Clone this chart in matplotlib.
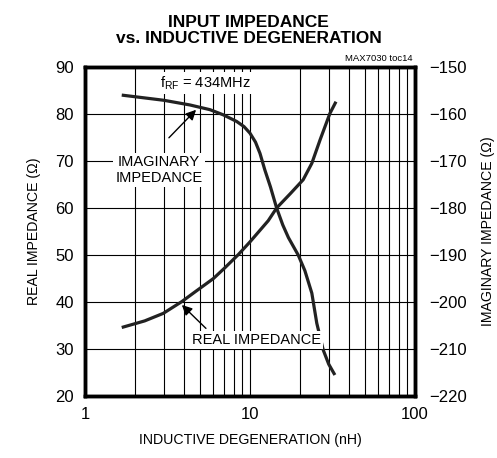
import matplotlib
matplotlib.use("Agg")
import matplotlib.pyplot as plt
from matplotlib import font_manager
from matplotlib.ticker import FixedLocator, NullFormatter

names = {f.name for f in font_manager.fontManager.ttflist}
narrow = 'Liberation Sans Narrow' if 'Liberation Sans Narrow' in names else 'Liberation Sans'
plt.rcParams['font.family'] = [narrow, 'DejaVu Sans']

# inductance (nH) and impedances
l_real = [1.67, 2.3, 2.98, 3.86, 4.7, 6.0, 7.0, 8.5, 10.0, 12.9, 14.5,
          17.5, 21.0, 23.7, 26.6, 30.5, 33.2]
z_real = [34.6, 36.0, 37.6, 40.1, 42.3, 45.0, 47.2, 50.1, 52.8, 57.3, 60.0,
          63.0, 66.0, 69.5, 74.5, 80.1, 82.6]
l_imag = [1.67, 3.0, 4.33, 5.72, 6.89, 8.3, 9.2, 10.0, 10.8, 11.5, 12.3,
          13.3, 14.5, 15.8, 17.1, 19.6, 21.5, 23.7, 25.4, 27.8, 30.0, 32.7]
z_imag = [-156.0, -157.1, -158.1, -159.1, -160.2, -161.6, -162.7, -164.1,
          -166.0, -168.4, -171.9, -175.5, -180.0, -183.6, -186.3, -190.0,
          -193.3, -198.1, -204.5, -210.2, -213.2, -215.5]

fig = plt.figure(figsize=(4.97, 4.58), dpi=100)
ax = fig.add_axes([0.171, 0.135, 0.664, 0.719])
ax.set_xscale('log')
ax.set_xlim(1, 100)
ax.set_ylim(20, 90)
ax.set_yticks(range(20, 91, 10))
ax.set_xticks([1, 10, 100])
ax.set_xticklabels(['1', '10', '100'])
ax.xaxis.set_minor_locator(FixedLocator([2, 3, 4, 5, 6, 7, 8, 9,
                                         20, 30, 40, 50, 60, 70, 80, 90]))
ax.xaxis.set_minor_formatter(NullFormatter())
ax.grid(True, which='both', color='black', lw=0.8)
ax.tick_params(which='both', length=0, labelsize=12, pad=8)
for s in ax.spines.values():
    s.set_linewidth(2.5)

ax2 = ax.twinx()
ax2.set_ylim(-220, -150)
ax2.set_yticks(range(-220, -149, 10))
ax2.tick_params(length=0, labelsize=12, pad=10)
for s in ax2.spines.values():
    s.set_linewidth(2.5)

ax.plot(l_real, z_real, color='#222222', lw=2.3, zorder=5,
        solid_joinstyle='round', solid_capstyle='butt')
ax2.plot(l_imag, z_imag, color='#222222', lw=2.3, zorder=5,
         solid_joinstyle='round', solid_capstyle='butt')

ax.set_xlabel('INDUCTIVE DEGENERATION (nH)', fontsize=10.2, labelpad=8)
ax.set_ylabel('REAL IMPEDANCE (Ω)', fontsize=10.2, labelpad=10)
ax2.set_ylabel('IMAGINARY IMPEDANCE (Ω)', fontsize=10.2, labelpad=10)

fig.text(0.5, 0.967, 'INPUT IMPEDANCE\nvs. INDUCTIVE DEGENERATION', ha='center',
         va='top', fontsize=12.5, fontweight='bold', linespacing=1.05)
fig.text(0.831, 0.862, 'MAX7030 toc14', ha='right', va='bottom', fontsize=6.8)

# annotations drawn on the twin axes so they sit above both curves
tr = ax.transData
box = dict(facecolor='white', edgecolor='none', pad=1.5)
ax2.text(5.34, 86.6, r'f$_{\mathregular{RF}}$ = 434MHz', ha='center', va='center',
         fontsize=10.5, bbox=box, zorder=6, transform=tr)
ax2.text(2.81, 68.1, 'IMAGINARY\nIMPEDANCE', ha='center', va='center',
         fontsize=10.5, linespacing=1.15, bbox=box, zorder=6, transform=tr)
ax2.text(10.9, 31.9, 'REAL IMPEDANCE', ha='center', va='center',
         fontsize=10.5, bbox=box, zorder=6, transform=tr)
ax2.annotate('', xy=(4.84, 81.3), xytext=(3.14, 74.5), xycoords=tr, textcoords=tr,
             arrowprops=dict(arrowstyle='-|>', color='black', lw=1, mutation_scale=15),
             zorder=7)
ax2.annotate('', xy=(3.76, 39.8), xytext=(5.56, 34.0), xycoords=tr, textcoords=tr,
             arrowprops=dict(arrowstyle='-|>', color='black', lw=1, mutation_scale=15),
             zorder=7)

fig.savefig('out.png', dpi=100)
